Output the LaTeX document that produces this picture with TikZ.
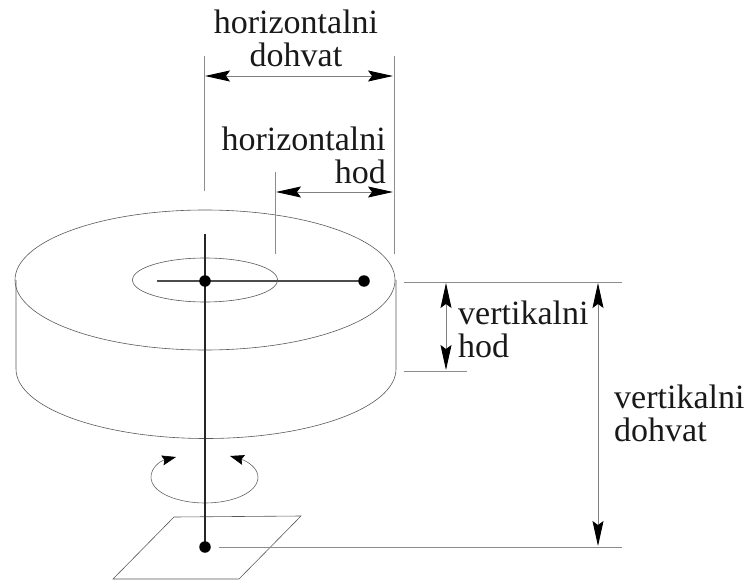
\documentclass[tikz,border=0pt]{standalone}
\usepackage{fontspec}
\setmainfont{Liberation Serif}
\usetikzlibrary{arrows.meta}
\tikzset{
  thinline/.style={draw=black!65,line width=0.6pt},
  dimline/.style={draw=black!45,line width=0.9pt},
  heavy/.style={draw=black!85,line width=1.5pt},
  armline/.style={draw=black!70,line width=2pt},
  dimarrow/.style={draw=black!50,line width=0.9pt,{Stealth[length=25pt,width=11pt,inset=4pt,black]}-{Stealth[length=25pt,width=11pt,inset=4pt,black]}},
  rotarrow/.style={draw=black!60,line width=0.6pt,{Stealth[length=14pt,width=10pt,inset=2pt,black]}-{Stealth[length=14pt,width=10pt,inset=2pt,black]}},
  dotnode/.style={circle,fill=black,inner sep=0pt,minimum size=11.5pt},
  lab/.style={font=\fontsize{34}{33}\selectfont,inner sep=0pt,align=left,text=black!90},
  labc/.style={lab,align=center}
}
\begin{document}
\begin{tikzpicture}[x=1pt,y=-1pt]
\useasboundingbox (0,0) rectangle (746,580);
% cylinder
\draw[thinline] (205,280) ellipse [x radius=190,y radius=70];
\draw[thinline] (16,280) -- (16,369) arc [start angle=180,end angle=360,x radius=190,y radius=-69.5] -- (396,280);
\draw[thinline] (205,280) ellipse [x radius=72.5,y radius=22];
% base plate
\coordinate (p1) at (174,517); \coordinate (p2) at (301,516);
\coordinate (p3) at (239,579); \coordinate (p4) at (113,579);
\draw[thinline] (p1) -- (p2) -- (p3) -- (p4) -- cycle;
% rotation
\coordinate (r1) at (176,457); \coordinate (r2) at (230,456);
\draw[rotarrow] (r1) .. controls (160,461) and (151,468) .. (151,477)
  .. controls (151,493) and (178,503) .. (205,503)
  .. controls (232,503) and (258,493) .. (258,477)
  .. controls (258,468) and (247,461) .. (r2);
% robot
\coordinate (armtail) at (157,281);
\coordinate (coltop) at (205,234);
\coordinate (armend) at (364,281);
\coordinate (colend) at (205,547);
\draw[armline] (armtail) -- (armend);
\draw[heavy] (coltop) -- (colend);
\node[dotnode] (j) at (205,281) {};
\node[dotnode] (e) at (armend) {};
\node[dotnode] (b) at (colend) {};
% extension lines
\coordinate (a1) at (204,56); \coordinate (a2) at (204,191);
\coordinate (a3) at (394,56); \coordinate (a4) at (394,254);
\coordinate (c1) at (275,172); \coordinate (c2) at (275,254);
\draw[dimline] (a1) -- (a2);
\draw[dimline] (a3) -- (a4);
\draw[dimline] (c1) -- (c2);
\coordinate (d1) at (404,282); \coordinate (d2) at (622,282);
\coordinate (d3) at (404,371); \coordinate (d4) at (467,371);
\coordinate (d5) at (219,547); \coordinate (d6) at (622,547);
\draw[dimline] (d1) -- (d2);
\draw[dimline] (d3) -- (d4);
\draw[dimline] (d5) -- (d6);
% dimension arrows
\coordinate (h1) at (205,76); \coordinate (h2) at (393,76);
\coordinate (h3) at (276,192); \coordinate (h4) at (393,192);
\coordinate (v1) at (446,283); \coordinate (v2) at (446,370);
\coordinate (w1) at (598,283); \coordinate (w2) at (598,546);
\draw[dimarrow] (h1) -- (h2);
\draw[dimarrow] (h3) -- (h4);
\draw[dimarrow] (v1) -- (v2);
\draw[dimarrow] (w1) -- (w2);
% labels
\node[labc,anchor=center] (l1) at (296,38) {horizontalni\\dohvat};
\node[lab,anchor=north east,align=right] (l2) at (386,127) {horizontalni\\hod};
\node[lab,anchor=west] (l3) at (458,329) {vertikalni\\hod};
\node[lab,anchor=west] (l4) at (614,413) {vertikalni\\dohvat};
\end{tikzpicture}
\end{document}
